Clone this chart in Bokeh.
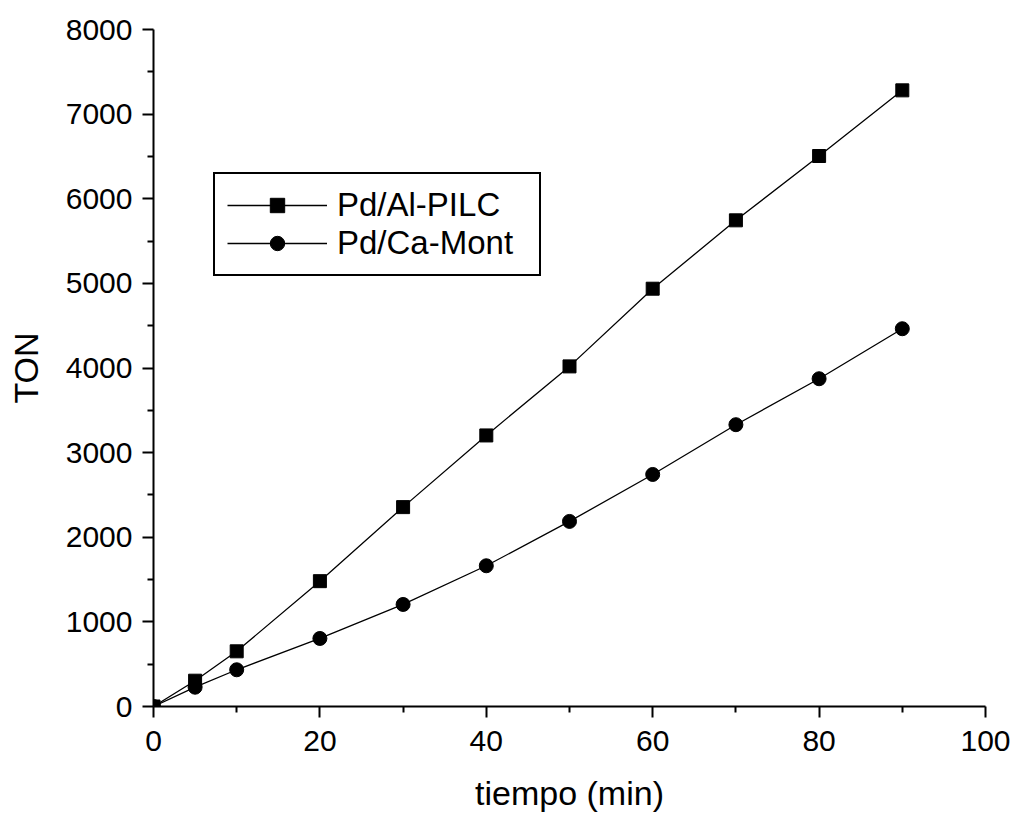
from bokeh.plotting import figure
from bokeh.models import FixedTicker, Legend, LegendItem, Range1d
from bokeh.embed import file_html
from bokeh.resources import INLINE

# Turnover number vs. reaction time for two palladium catalysts
tiempo = [0, 5, 10, 20, 30, 40, 50, 60, 70, 80, 90]
ton_al_pilc = [0, 305, 652, 1481, 2356, 3203, 4019, 4937, 5745, 6505, 7281]
ton_ca_mont = [0, 228, 434, 804, 1206, 1663, 2187, 2742, 3330, 3873, 4464]

x_ticks = [0, 20, 40, 60, 80, 100]
x_minor = [10, 30, 50, 70, 90]
y_ticks = [0, 1000, 2000, 3000, 4000, 5000, 6000, 7000, 8000]
y_minor = [500, 1500, 2500, 3500, 4500, 5500, 6500, 7500]

FONT = "Liberation Sans"

p = figure(
    width=1013, height=815,
    x_range=Range1d(0, 100), y_range=Range1d(0, 8000),
    output_backend="svg", toolbar_location=None,
    min_border_left=153, min_border_right=28,
    min_border_top=29, min_border_bottom=109,
)
p.outline_line_color = None
p.grid.visible = False
p.background_fill_color = "white"
p.border_fill_color = "white"

p.xaxis.ticker = FixedTicker(ticks=x_ticks, minor_ticks=x_minor)
p.yaxis.ticker = FixedTicker(ticks=y_ticks, minor_ticks=y_minor)

for ax in (p.xaxis[0], p.yaxis[0]):
    ax.axis_line_width = 2
    ax.axis_line_color = "black"
    ax.major_tick_line_width = 2
    ax.minor_tick_line_width = 2
    ax.major_tick_line_color = "black"
    ax.minor_tick_line_color = "black"
    ax.major_tick_in = 0
    ax.minor_tick_in = 0
    ax.major_tick_out = 11
    ax.minor_tick_out = 6
    ax.major_label_text_font = FONT
    ax.major_label_text_font_size = "30px"
    ax.major_label_text_color = "black"
    ax.axis_label_text_font = FONT
    ax.axis_label_text_font_size = "34px"
    ax.axis_label_text_font_style = "normal"
    ax.axis_label_text_color = "black"

p.xaxis.axis_label = "tiempo (min)"
p.yaxis.axis_label = "TON"
p.xaxis.major_label_standoff = 13
p.yaxis.major_label_standoff = 10
p.xaxis.axis_label_standoff = 20
p.yaxis.axis_label_standoff = 18

l1 = p.line(tiempo, ton_al_pilc, line_color="black", line_width=1.3)
s1 = p.scatter(tiempo, ton_al_pilc, marker="square", size=13,
               fill_color="black", line_color="black")
l2 = p.line(tiempo, ton_ca_mont, line_color="black", line_width=1.3)
s2 = p.scatter(tiempo, ton_ca_mont, marker="circle", size=14,
               fill_color="black", line_color="black")

legend = Legend(
    items=[
        LegendItem(label="Pd/Al-PILC", renderers=[l1, s1]),
        LegendItem(label="Pd/Ca-Mont", renderers=[l2, s2]),
    ],
    location=(60, 430),
    label_text_font=FONT,
    label_text_font_size="33px",
    label_text_color="black",
    glyph_width=100,
    glyph_height=36,
    label_height=36,
    label_width=190,
    label_standoff=10,
    spacing=0,
    padding=12,
    margin=0,
    border_line_color="black",
    border_line_alpha=1.0,
    border_line_width=2,
    background_fill_alpha=1.0,
)
p.add_layout(legend, "center")

open("out.html", "w").write(file_html(p, INLINE))
